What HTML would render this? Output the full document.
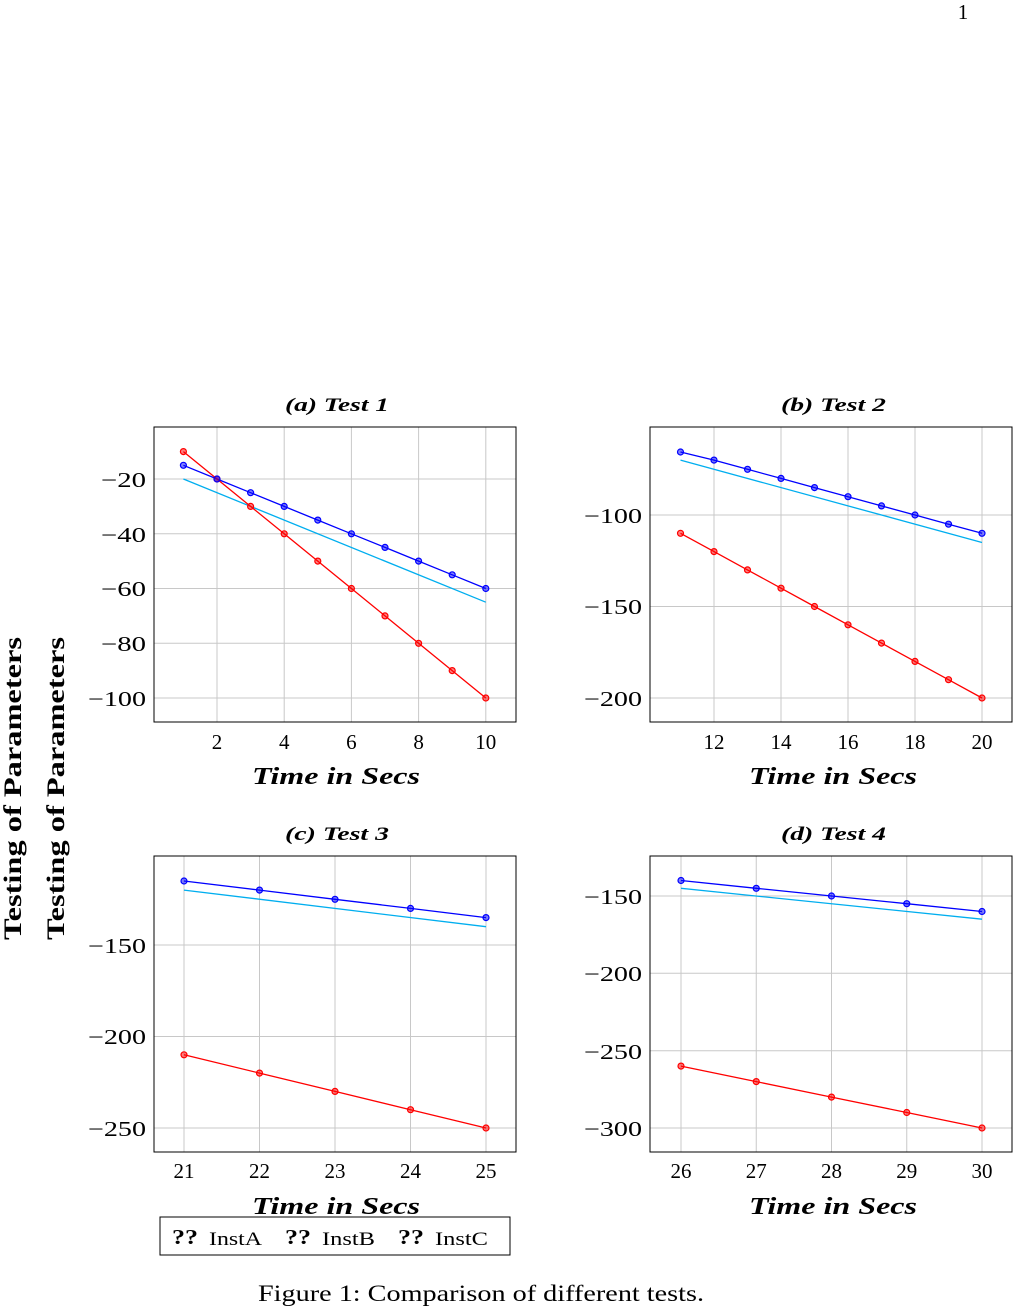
<!DOCTYPE html>
<html><head><meta charset="utf-8"><style>
body{margin:0;background:#fff}
svg{display:block}
text{font-family:"Liberation Serif",serif;fill:#000}
.t{font-size:21px}
.ti{font-size:19px;font-weight:bold;font-style:italic}
.xl{font-size:24px;font-weight:bold;font-style:italic}
.g{stroke:#c8c8c8;stroke-width:1}
.b{stroke:#0000ff;fill:none;stroke-width:1.3}
.r{stroke:#ff0000;fill:none;stroke-width:1.3}
.c{stroke:#00aeef;fill:none;stroke-width:1.3}
.mb circle{fill:#0000ff;fill-opacity:.5;stroke:#0000ff;stroke-width:1.2}
.mr circle{fill:#ff0000;fill-opacity:.5;stroke:#ff0000;stroke-width:1.2}
.box{fill:none;stroke:#000;stroke-width:1}
</style></head><body>
<svg width="1015" height="1308" viewBox="0 0 1015 1308">
<text x="963" y="19" class="t" text-anchor="middle">1</text>

<!-- Plot a -->
<text x="285" y="411" class="ti" textLength="104" lengthAdjust="spacingAndGlyphs">(a)  Test 1</text>
<g class="g"><line x1="217" y1="427" x2="217" y2="722"/><line x1="284.2" y1="427" x2="284.2" y2="722"/><line x1="351.4" y1="427" x2="351.4" y2="722"/><line x1="418.6" y1="427" x2="418.6" y2="722"/><line x1="485.8" y1="427" x2="485.8" y2="722"/>
<line x1="154" y1="479" x2="516" y2="479"/><line x1="154" y1="533.8" x2="516" y2="533.8"/><line x1="154" y1="588.5" x2="516" y2="588.5"/><line x1="154" y1="643.3" x2="516" y2="643.3"/><line x1="154" y1="698" x2="516" y2="698"/></g>
<line class="c" x1="183.4" y1="479" x2="485.8" y2="602.2"/>
<polyline class="b" points="183.4,465.3 217,479 250.6,492.7 284.2,506.4 317.8,520.1 351.4,533.8 385,547.4 418.6,561.1 452.2,574.8 485.8,588.5"/>
<polyline class="r" points="183.4,451.6 217,479 250.6,506.4 284.2,533.8 317.8,561.1 351.4,588.5 385,615.9 418.6,643.3 452.2,670.6 485.8,698"/>
<g class="mr"><circle cx="183.4" cy="451.6" r="3"/><circle cx="217" cy="479" r="3"/><circle cx="250.6" cy="506.4" r="3"/><circle cx="284.2" cy="533.8" r="3"/><circle cx="317.8" cy="561.1" r="3"/><circle cx="351.4" cy="588.5" r="3"/><circle cx="385" cy="615.9" r="3"/><circle cx="418.6" cy="643.3" r="3"/><circle cx="452.2" cy="670.6" r="3"/><circle cx="485.8" cy="698" r="3"/></g>
<g class="mb"><circle cx="183.4" cy="465.3" r="3"/><circle cx="217" cy="479" r="3"/><circle cx="250.6" cy="492.7" r="3"/><circle cx="284.2" cy="506.4" r="3"/><circle cx="317.8" cy="520.1" r="3"/><circle cx="351.4" cy="533.8" r="3"/><circle cx="385" cy="547.4" r="3"/><circle cx="418.6" cy="561.1" r="3"/><circle cx="452.2" cy="574.8" r="3"/><circle cx="485.8" cy="588.5" r="3"/></g>
<rect class="box" x="154" y="427" width="362" height="295"/>
<g class="t"><text x="101" y="487" textLength="45" lengthAdjust="spacingAndGlyphs">−20</text><text x="101" y="542" textLength="45" lengthAdjust="spacingAndGlyphs">−40</text><text x="101" y="596" textLength="45" lengthAdjust="spacingAndGlyphs">−60</text><text x="101" y="651" textLength="45" lengthAdjust="spacingAndGlyphs">−80</text><text x="88" y="706" textLength="58" lengthAdjust="spacingAndGlyphs">−100</text></g>
<g class="t" text-anchor="middle"><text x="217" y="749">2</text><text x="284.2" y="749">4</text><text x="351.4" y="749">6</text><text x="418.6" y="749">8</text><text x="485.8" y="749">10</text></g>
<text x="252" y="784" class="xl" textLength="168" lengthAdjust="spacingAndGlyphs">Time in Secs</text>

<!-- Plot b -->
<text x="781" y="411" class="ti" textLength="105" lengthAdjust="spacingAndGlyphs">(b)  Test 2</text>
<g class="g"><line x1="714" y1="427" x2="714" y2="722"/><line x1="781" y1="427" x2="781" y2="722"/><line x1="848" y1="427" x2="848" y2="722"/><line x1="915" y1="427" x2="915" y2="722"/><line x1="982" y1="427" x2="982" y2="722"/>
<line x1="650" y1="515" x2="1012" y2="515"/><line x1="650" y1="606.5" x2="1012" y2="606.5"/><line x1="650" y1="698" x2="1012" y2="698"/></g>
<line class="c" x1="680.5" y1="460.1" x2="982" y2="542.5"/>
<polyline class="b" points="680.5,452 714,460.1 747.5,469.3 781,478.4 814.5,487.6 848,496.7 881.5,505.9 915,515 948.5,524.2 982,533.3"/>
<polyline class="r" points="680.5,533.3 714,551.6 747.5,569.9 781,588.2 814.5,606.5 848,624.8 881.5,643.1 915,661.4 948.5,679.7 982,698"/>
<g class="mr"><circle cx="680.5" cy="533.3" r="3"/><circle cx="714" cy="551.6" r="3"/><circle cx="747.5" cy="569.9" r="3"/><circle cx="781" cy="588.2" r="3"/><circle cx="814.5" cy="606.5" r="3"/><circle cx="848" cy="624.8" r="3"/><circle cx="881.5" cy="643.1" r="3"/><circle cx="915" cy="661.4" r="3"/><circle cx="948.5" cy="679.7" r="3"/><circle cx="982" cy="698" r="3"/></g>
<g class="mb"><circle cx="680.5" cy="452" r="3"/><circle cx="714" cy="460.1" r="3"/><circle cx="747.5" cy="469.3" r="3"/><circle cx="781" cy="478.4" r="3"/><circle cx="814.5" cy="487.6" r="3"/><circle cx="848" cy="496.7" r="3"/><circle cx="881.5" cy="505.9" r="3"/><circle cx="915" cy="515" r="3"/><circle cx="948.5" cy="524.2" r="3"/><circle cx="982" cy="533.3" r="3"/></g>
<rect class="box" x="650" y="427" width="362" height="295"/>
<g class="t"><text x="584" y="523" textLength="58" lengthAdjust="spacingAndGlyphs">−100</text><text x="584" y="614" textLength="58" lengthAdjust="spacingAndGlyphs">−150</text><text x="584" y="706" textLength="58" lengthAdjust="spacingAndGlyphs">−200</text></g>
<g class="t" text-anchor="middle"><text x="714" y="749">12</text><text x="781" y="749">14</text><text x="848" y="749">16</text><text x="915" y="749">18</text><text x="982" y="749">20</text></g>
<text x="749" y="784" class="xl" textLength="168" lengthAdjust="spacingAndGlyphs">Time in Secs</text>

<!-- Plot c -->
<text x="285" y="840" class="ti" textLength="104" lengthAdjust="spacingAndGlyphs">(c)  Test 3</text>
<g class="g"><line x1="184" y1="856" x2="184" y2="1152"/><line x1="259.5" y1="856" x2="259.5" y2="1152"/><line x1="335" y1="856" x2="335" y2="1152"/><line x1="410.5" y1="856" x2="410.5" y2="1152"/><line x1="486" y1="856" x2="486" y2="1152"/>
<line x1="154" y1="945" x2="516" y2="945"/><line x1="154" y1="1036.5" x2="516" y2="1036.5"/><line x1="154" y1="1128" x2="516" y2="1128"/></g>
<line class="c" x1="184" y1="890.1" x2="486" y2="926.7"/>
<polyline class="b" points="184,881 259.5,890.1 335,899.3 410.5,908.4 486,917.6"/>
<polyline class="r" points="184,1054.8 259.5,1073.1 335,1091.4 410.5,1109.7 486,1128"/>
<g class="mr"><circle cx="184" cy="1054.8" r="3"/><circle cx="259.5" cy="1073.1" r="3"/><circle cx="335" cy="1091.4" r="3"/><circle cx="410.5" cy="1109.7" r="3"/><circle cx="486" cy="1128" r="3"/></g>
<g class="mb"><circle cx="184" cy="881" r="3"/><circle cx="259.5" cy="890.1" r="3"/><circle cx="335" cy="899.3" r="3"/><circle cx="410.5" cy="908.4" r="3"/><circle cx="486" cy="917.6" r="3"/></g>
<rect class="box" x="154" y="856" width="362" height="296"/>
<g class="t"><text x="88" y="953" textLength="58" lengthAdjust="spacingAndGlyphs">−150</text><text x="88" y="1044" textLength="58" lengthAdjust="spacingAndGlyphs">−200</text><text x="88" y="1136" textLength="58" lengthAdjust="spacingAndGlyphs">−250</text></g>
<g class="t" text-anchor="middle"><text x="184" y="1178">21</text><text x="259.5" y="1178">22</text><text x="335" y="1178">23</text><text x="410.5" y="1178">24</text><text x="486" y="1178">25</text></g>
<text x="252" y="1214" class="xl" textLength="168" lengthAdjust="spacingAndGlyphs">Time in Secs</text>

<!-- Plot d -->
<text x="781" y="840" class="ti" textLength="105" lengthAdjust="spacingAndGlyphs">(d)  Test 4</text>
<g class="g"><line x1="681" y1="856" x2="681" y2="1152"/><line x1="756.25" y1="856" x2="756.25" y2="1152"/><line x1="831.5" y1="856" x2="831.5" y2="1152"/><line x1="906.75" y1="856" x2="906.75" y2="1152"/><line x1="982" y1="856" x2="982" y2="1152"/>
<line x1="650" y1="896" x2="1012" y2="896"/><line x1="650" y1="973.3" x2="1012" y2="973.3"/><line x1="650" y1="1050.7" x2="1012" y2="1050.7"/><line x1="650" y1="1128" x2="1012" y2="1128"/></g>
<line class="c" x1="681" y1="888.3" x2="982" y2="919.2"/>
<polyline class="b" points="681,880.5 756.25,888.3 831.5,896 906.75,903.7 982,911.5"/>
<polyline class="r" points="681,1066.1 756.25,1081.6 831.5,1097.1 906.75,1112.5 982,1128"/>
<g class="mr"><circle cx="681" cy="1066.1" r="3"/><circle cx="756.25" cy="1081.6" r="3"/><circle cx="831.5" cy="1097.1" r="3"/><circle cx="906.75" cy="1112.5" r="3"/><circle cx="982" cy="1128" r="3"/></g>
<g class="mb"><circle cx="681" cy="880.5" r="3"/><circle cx="756.25" cy="888.3" r="3"/><circle cx="831.5" cy="896" r="3"/><circle cx="906.75" cy="903.7" r="3"/><circle cx="982" cy="911.5" r="3"/></g>
<rect class="box" x="650" y="856" width="362" height="296"/>
<g class="t"><text x="584" y="904" textLength="58" lengthAdjust="spacingAndGlyphs">−150</text><text x="584" y="981" textLength="58" lengthAdjust="spacingAndGlyphs">−200</text><text x="584" y="1059" textLength="58" lengthAdjust="spacingAndGlyphs">−250</text><text x="584" y="1136" textLength="58" lengthAdjust="spacingAndGlyphs">−300</text></g>
<g class="t" text-anchor="middle"><text x="681" y="1178">26</text><text x="756.25" y="1178">27</text><text x="831.5" y="1178">28</text><text x="906.75" y="1178">29</text><text x="982" y="1178">30</text></g>
<text x="749" y="1214" class="xl" textLength="168" lengthAdjust="spacingAndGlyphs">Time in Secs</text>

<!-- y labels -->
<text transform="translate(21,940) rotate(-90)" style="font-size:25px;font-weight:bold" textLength="303" lengthAdjust="spacingAndGlyphs">Testing of Parameters</text>
<text transform="translate(64,940) rotate(-90)" style="font-size:25px;font-weight:bold" textLength="303" lengthAdjust="spacingAndGlyphs">Testing of Parameters</text>

<!-- legend -->
<rect class="box" x="160" y="1217" width="350" height="38"/>
<text x="172" y="1244" style="font-size:21px;font-weight:bold" textLength="26" lengthAdjust="spacingAndGlyphs">??</text><text x="209" y="1245" style="font-size:19px" textLength="53" lengthAdjust="spacingAndGlyphs">InstA</text>
<text x="285" y="1244" style="font-size:21px;font-weight:bold" textLength="26" lengthAdjust="spacingAndGlyphs">??</text><text x="322" y="1245" style="font-size:19px" textLength="53" lengthAdjust="spacingAndGlyphs">InstB</text>
<text x="398" y="1244" style="font-size:21px;font-weight:bold" textLength="26" lengthAdjust="spacingAndGlyphs">??</text><text x="435" y="1245" style="font-size:19px" textLength="53" lengthAdjust="spacingAndGlyphs">InstC</text>

<text x="258" y="1301" style="font-size:23px" textLength="446" lengthAdjust="spacingAndGlyphs">Figure 1: Comparison of different tests.</text>
</svg>
</body></html>
